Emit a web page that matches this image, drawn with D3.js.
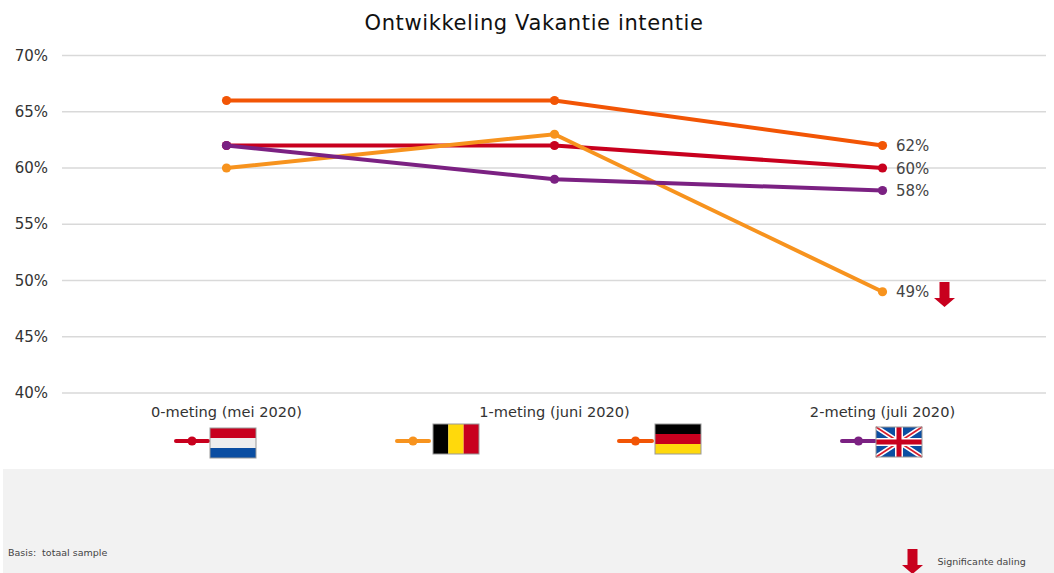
<!DOCTYPE html>
<html><head><meta charset="utf-8">
<script src="https://cdn.jsdelivr.net/npm/d3@7/dist/d3.min.js"></script>
<style>html,body{margin:0;padding:0;background:#fff;overflow:hidden}svg{display:block}text{font-family:"DejaVu Sans",sans-serif;white-space:pre}</style>
</head><body><svg id="c" width="1054" height="573"></svg>
<script>
const title = "Ontwikkeling Vakantie intentie";
const categories = ["0-meting (mei 2020)", "1-meting (juni 2020)", "2-meting (juli 2020)"];
const yTicks = [40, 45, 50, 55, 60, 65, 70];
const seriesNames = ["Nederland", "België", "Duitsland", "Verenigd Koninkrijk"];
const seriesColors = ["#c8001e", "#f7931e", "#f25505", "#7b2182"];
const nederland = [62, 62, 60];
const belgie = [60, 63, 49];
const duitsland = [66, 66, 62];
const uk = [62, 59, 58];
const seriesValues = [nederland, belgie, duitsland, uk];
const legendPos = [[176, 208, 210, 428], [397, 429, 433, 424], [619, 652, 655, 424], [842, 875, 876, 427]];

const svg = d3.select("#c");
const x = d3.scaleBand().domain(categories).range([62.5, 1046.5]);
const y = d3.scaleLinear().domain([40, 70]).range([393, 55.5]);
const cx = c => x(c) + x.bandwidth() / 2;

svg.append("rect").attr("x", 3).attr("y", 469).attr("width", 1051).attr("height", 104).attr("fill", "#f2f2f2");

svg.append("text").attr("x", 534).attr("y", 30).attr("text-anchor", "middle").attr("font-size", 21).attr("letter-spacing", 0.62).attr("fill", "#111").text(title);

const gy = svg.append("g");
yTicks.forEach(t => {
  gy.append("line").attr("x1", 62).attr("x2", 1046).attr("y1", y(t)).attr("y2", y(t)).attr("stroke", "#d9d9d9").attr("stroke-width", 1.5);
  gy.append("text").attr("x", 48).attr("y", y(t) + 5).attr("text-anchor", "end").attr("font-size", 15).attr("fill", "#333").text(t + "%");
});
categories.forEach(c => {
  svg.append("text").attr("x", cx(c)).attr("y", 417).attr("text-anchor", "middle").attr("font-size", 14.6).attr("fill", "#333").text(c);
});

const line = d3.line().x((d, i) => cx(categories[i])).y(d => y(d));
seriesValues.forEach((vals, s) => {
  const g = svg.append("g");
  g.append("path").attr("d", line(vals)).attr("fill", "none").attr("stroke", seriesColors[s]).attr("stroke-width", 4);
  vals.forEach((v, i) => g.append("circle").attr("cx", cx(categories[i])).attr("cy", y(v)).attr("r", 4.6).attr("fill", seriesColors[s]));
  const last = vals[vals.length - 1];
  g.append("text").attr("x", cx(categories[2]) + 13.5).attr("y", y(last) + 5.5).attr("font-size", 15).attr("fill", "#444").text(last + "%");
});

function arrow(cxp, top) {
  const p = d3.path();
  p.moveTo(cxp - 5, top); p.lineTo(cxp + 5, top); p.lineTo(cxp + 5, top + 16);
  p.lineTo(cxp + 10.5, top + 16); p.lineTo(cxp, top + 25); p.lineTo(cxp - 10.5, top + 16);
  p.lineTo(cxp - 5, top + 16); p.closePath();
  svg.append("path").attr("d", p.toString()).attr("fill", "#c8001e");
}
arrow(944.5, 282);
arrow(912.5, 549);

svg.append("text").attr("x", 937.5).attr("y", 565).attr("font-size", 9.5).attr("fill", "#444").text("Significante daling");
svg.append("text").attr("x", 8).attr("y", 556).attr("font-size", 9.5).attr("fill", "#444").text("Basis:  totaal sample");

const W = 46, H = 30;
function stripes(px, py, cols, vertical) {
  const g = svg.append("g");
  cols.forEach((col, i) => {
    g.append("rect")
      .attr("x", vertical ? px + i * W / 3 : px).attr("y", vertical ? py : py + i * H / 3)
      .attr("width", vertical ? W / 3 : W).attr("height", vertical ? H : H / 3).attr("fill", col);
  });
  border(px, py);
}
function border(px, py) {
  svg.append("rect").attr("x", px).attr("y", py).attr("width", W).attr("height", H).attr("fill", "none").attr("stroke", "#999").attr("stroke-width", 1);
}
function ukFlag(px, py) {
  const g = svg.append("g");
  g.append("rect").attr("x", px).attr("y", py).attr("width", W).attr("height", H).attr("fill", "#0b4ea2");
  const ln = (x1, y1, x2, y2, col, w) => g.append("line").attr("x1", x1).attr("y1", y1).attr("x2", x2).attr("y2", y2).attr("stroke", col).attr("stroke-width", w);
  ln(px, py, px + W, py + H, "#fff", 5); ln(px + W, py, px, py + H, "#fff", 5);
  ln(px, py, px + W, py + H, "#d81e2c", 1.6); ln(px + W, py, px, py + H, "#d81e2c", 1.6);
  ln(px + W / 2, py, px + W / 2, py + H, "#fff", 8); ln(px, py + H / 2, px + W, py + H / 2, "#fff", 8);
  ln(px + W / 2, py, px + W / 2, py + H, "#c8001e", 5); ln(px, py + H / 2, px + W, py + H / 2, "#c8001e", 5);
  border(px, py);
}
seriesNames.forEach((n, s) => {
  const [a, b, fx, fy] = legendPos[s];
  svg.append("line").attr("x1", a).attr("x2", b).attr("y1", 441).attr("y2", 441).attr("stroke", seriesColors[s]).attr("stroke-width", 4).attr("stroke-linecap", "round");
  svg.append("circle").attr("cx", (a + b) / 2).attr("cy", 441).attr("r", 4.6).attr("fill", seriesColors[s]);
});
stripes(legendPos[0][2], legendPos[0][3], ["#c8001e", "#eeeeee", "#0b4ea2"], false);
stripes(legendPos[1][2], legendPos[1][3], ["#000000", "#ffd90c", "#c8001e"], true);
stripes(legendPos[2][2], legendPos[2][3], ["#000000", "#c8001e", "#ffd90c"], false);
ukFlag(legendPos[3][2], legendPos[3][3]);
</script></body></html>
